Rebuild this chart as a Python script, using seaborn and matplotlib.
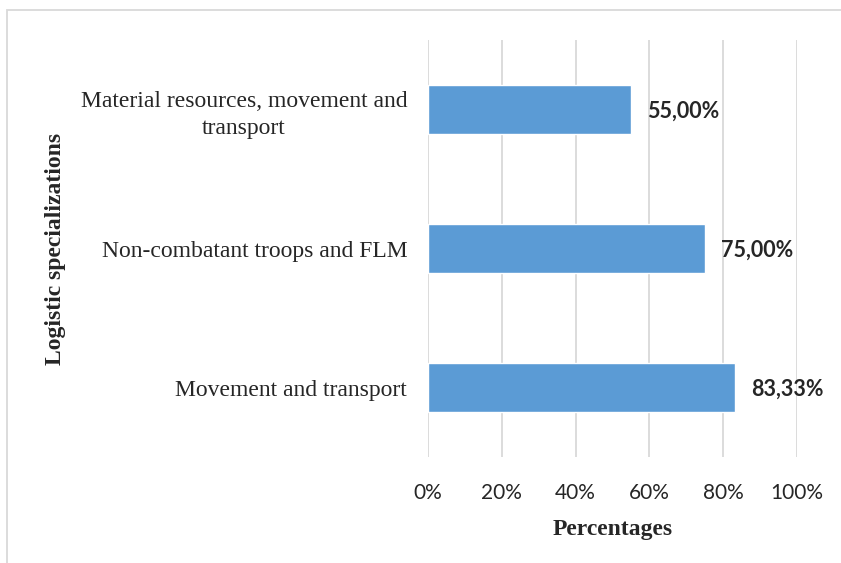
import matplotlib
matplotlib.use("Agg")
import matplotlib.pyplot as plt
import seaborn as sns
import pandas as pd
from matplotlib.patches import Rectangle

categories = ["Material resources, movement and\ntransport",
              "Non-combatant troops and FLM",
              "Movement and transport"]
values = [55.00, 75.00, 83.33]
value_labels = ["55,00%", "75,00%", "83,33%"]
xticks = [0, 20, 40, 60, 80, 100]
xtick_labels = ["0%", "20%", "40%", "60%", "80%", "100%"]

df = pd.DataFrame({"cat": categories, "val": values})

sns.set_theme(style="white")
plt.rcParams['font.family'] = ['Liberation Serif', 'DejaVu Serif']

fig = plt.figure(figsize=(8.41, 5.63), dpi=100)
W, H = 841, 563
ax = fig.add_axes([428 / W, (H - 457) / H, (797 - 428) / W, (457 - 40) / H])

sns.barplot(data=df, x="val", y="cat", orient="h", color="#5B9BD5",
            saturation=1, width=0.35, ax=ax, zorder=3)

ax.set_xlim(0, 100)
ax.set_ylim(2.5, -0.5)
ax.set_xticks(xticks)
ax.set_xticklabels(xtick_labels, family=['Lato', 'DejaVu Sans'], fontsize=15)
for lab in ax.get_yticklabels():
    lab.set_fontsize(17)
    lab.set_multialignment('center')
    lab.set_linespacing(1.35)
ax.tick_params(axis='x', length=0, pad=19)
ax.tick_params(axis='y', length=0, pad=15)
ax.grid(axis='x', color='#D9D9D9', linewidth=1.3, zorder=0)
for s in ax.spines.values():
    s.set_visible(False)

for i, (v, t) in enumerate(zip(values, value_labels)):
    ax.annotate(t, (v, i), xytext=(11.5, -1), textcoords='offset points',
                ha='left', va='center', fontsize=15.5, fontweight='bold',
                family=['Lato', 'DejaVu Sans'])

ax.set_xlabel("Percentages", fontsize=17, fontweight='bold', labelpad=11)
ax.set_ylabel("Logistic specializations", fontsize=17, fontweight='bold')
ax.yaxis.set_label_coords((66 - 428) / (797 - 428), 0.5)

fig.patches.append(Rectangle((7 / W, -0.1), 1.2, (H - 10) / H + 0.1,
                             transform=fig.transFigure, fill=False,
                             edgecolor='#D9D9D9', linewidth=1.3))

fig.savefig("out.png", dpi=100)
